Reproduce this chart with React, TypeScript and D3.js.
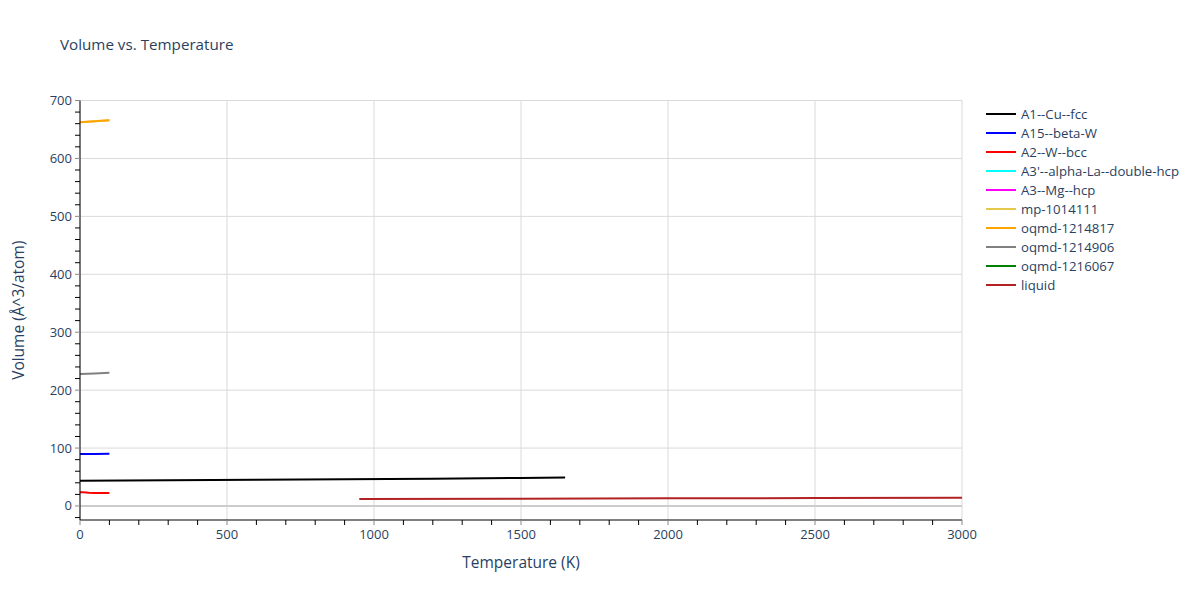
import React from "react";
import * as d3 from "d3";

const seriesNames = [
  "A1--Cu--fcc",
  "A15--beta-W",
  "A2--W--bcc",
  "A3'--alpha-La--double-hcp",
  "A3--Mg--hcp",
  "mp-1014111",
  "oqmd-1214817",
  "oqmd-1214906",
  "oqmd-1216067",
  "liquid",
];
const seriesColors = ["black", "blue", "red", "cyan", "magenta", "#e6c84a", "orange", "grey", "green", "#b22222"];

const cuT = [0, 300, 600, 900, 1200, 1500, 1650];
const cuV = [43.6, 44.3, 45.1, 46.0, 47.0, 48.3, 49.0];
const betaWT = [0, 20, 50, 100];
const betaWV = [89.6, 89.7, 89.9, 90.3];
const bccT = [0, 10, 30, 50, 100];
const bccV = [23.8, 23.7, 22.8, 22.3, 22.3];
const mpT = [0, 50, 100];
const mpV = [662.3, 664.0, 665.8];
const oq817T = [0, 50, 100];
const oq817V = [662.5, 664.2, 666.0];
const oq906T = [0, 50, 100];
const oq906V = [228.0, 228.9, 229.8];
const liqT = [950, 1500, 2000, 2500, 3000];
const liqV = [12.2, 12.7, 13.2, 13.7, 14.3];

const seriesData: { T: number[]; V: number[] }[] = [
  { T: cuT, V: cuV },
  { T: betaWT, V: betaWV },
  { T: bccT, V: bccV },
  { T: [], V: [] },
  { T: [], V: [] },
  { T: mpT, V: mpV },
  { T: oq817T, V: oq817V },
  { T: oq906T, V: oq906V },
  { T: [], V: [] },
  { T: liqT, V: liqV },
];

const xMajor = [0, 500, 1000, 1500, 2000, 2500, 3000];
const yMajor = [0, 100, 200, 300, 400, 500, 600, 700];

export default function App() {
  const W = 1200, H = 600;
  const left = 80, right = 962, top = 100.5, bottom = 520;
  const x = d3.scaleLinear().domain([0, 3000]).range([left, right]);
  const y = d3.scaleLinear().domain([-24.2, 700]).range([bottom, top]);
  const xMinor = d3.range(0, 3001, 100);
  const yMinor = d3.range(-20, 701, 20);
  const line = d3.line<[number, number]>().x((d) => x(d[0])).y((d) => y(d[1]));
  const font = "'Open Sans', verdana, arial, sans-serif";
  const txt = "#2a3f5f";
  return (
    <svg width={W} height={H} style={{ position: "absolute", left: 0, top: 0, background: "white" }} fontFamily={font}>
      <text x={60} y={50} fontSize={15.2} fill={txt}>Volume vs. Temperature</text>
      {xMajor.map((v) => (
        <line key={"gx" + v} x1={x(v)} x2={x(v)} y1={top} y2={bottom} stroke="#dadada" strokeWidth={1} />
      ))}
      {yMajor.map((v) => (
        <line key={"gy" + v} x1={left} x2={right} y1={y(v)} y2={y(v)} stroke={v === 0 ? "#cccccc" : "#dadada"} strokeWidth={v === 0 ? 2 : 1} />
      ))}
      {seriesData.map((s, i) =>
        s.T.length ? (
          <path key={"s" + i} d={line(s.T.map((t, j) => [t, s.V[j]] as [number, number])) || ""} fill="none" stroke={seriesColors[i]} strokeWidth={2} />
        ) : null
      )}
      <line x1={left} x2={right} y1={bottom} y2={bottom} stroke="black" strokeWidth={1} />
      <line x1={left} x2={left} y1={top} y2={bottom} stroke="black" strokeWidth={1} />
      {xMinor.map((v) => (
        <line key={"tx" + v} x1={x(v)} x2={x(v)} y1={bottom} y2={bottom + 5} stroke={v % 500 === 0 ? "#888" : "black"} strokeWidth={1} />
      ))}
      {yMinor.map((v) => (
        <line key={"ty" + v} x1={left - 5} x2={left} y1={y(v)} y2={y(v)} stroke={v % 100 === 0 ? "#888" : "black"} strokeWidth={1} />
      ))}
      {xMajor.map((v) => (
        <text key={"lx" + v} x={x(v)} y={539} fontSize={13} fill={txt} textAnchor="middle">{v}</text>
      ))}
      {yMajor.map((v) => (
        <text key={"ly" + v} x={72} y={y(v) + 4.5} fontSize={13} fill={txt} textAnchor="end">{v}</text>
      ))}
      <text x={(left + right) / 2} y={568} fontSize={15.5} fill={txt} textAnchor="middle">Temperature (K)</text>
      <text transform={`translate(24,${(top + bottom) / 2}) rotate(-90)`} fontSize={15.5} fill={txt} textAnchor="middle">Volume (Å^3/atom)</text>
      {seriesNames.map((n, i) => (
        <g key={"lg" + i} transform={`translate(986,${114 + i * 19})`}>
          <line x1={0} x2={30} y1={0} y2={0} stroke={seriesColors[i]} strokeWidth={2} />
          <text x={35} y={4.5} fontSize={13.2} fill={txt}>{n}</text>
        </g>
      ))}
    </svg>
  );
}
